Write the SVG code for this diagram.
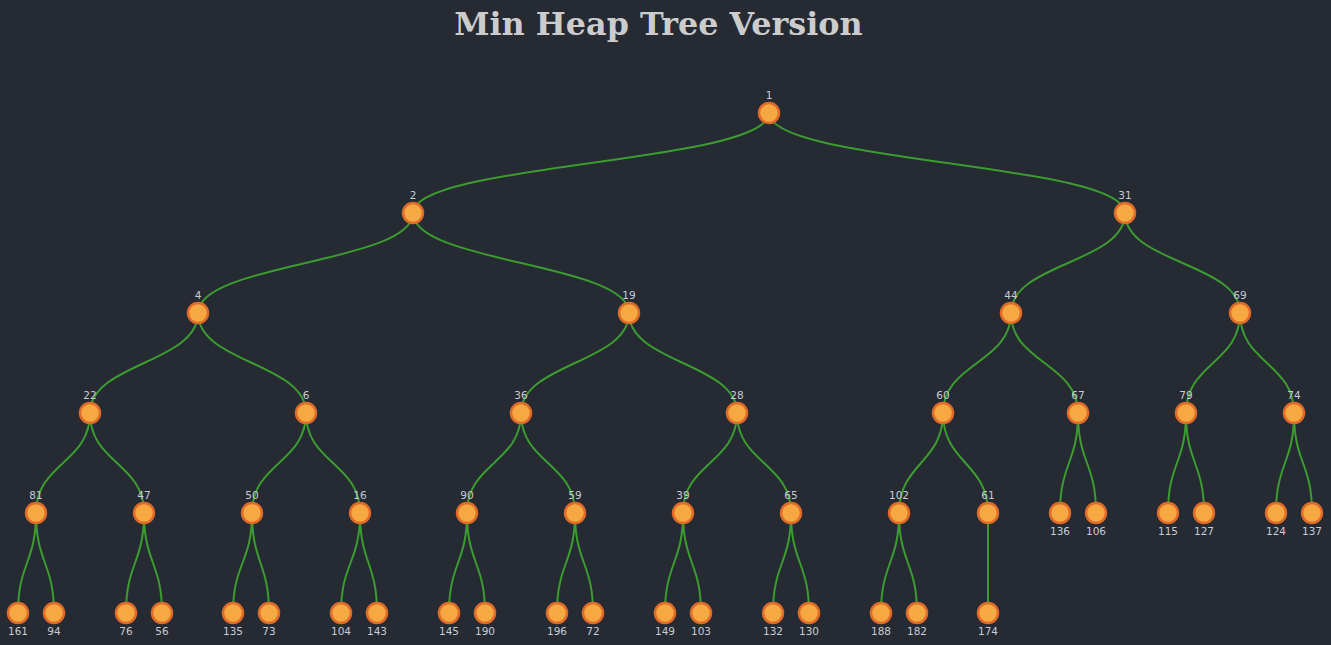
<svg xmlns="http://www.w3.org/2000/svg" width="1331" height="645" viewBox="0 0 1331 645">
<style>
.e{fill:none;stroke:#3c9c2f;stroke-width:2}
.n circle{fill:#f6a843;stroke:#e06b28;stroke-width:2.5}
.n text{font-family:"DejaVu Sans",sans-serif;font-size:10.5px;fill:#c8ccd4;text-anchor:middle}
.t{font-family:"DejaVu Serif","Liberation Serif",serif;font-weight:bold;font-size:31.8px;fill:#cccccc;text-anchor:middle}
</style>
<rect width="1331" height="645" fill="#252a33"/>
<text class="t" x="658.5" y="35">Min Heap Tree Version</text>
<g id="edges">
<path class="e" d="M769 113C769 163 413 163 413 213"/>
<path class="e" d="M769 113C769 163 1125 163 1125 213"/>
<path class="e" d="M413 213C413 263 198 263 198 313"/>
<path class="e" d="M413 213C413 263 629 263 629 313"/>
<path class="e" d="M1125 213C1125 263 1011 263 1011 313"/>
<path class="e" d="M1125 213C1125 263 1240 263 1240 313"/>
<path class="e" d="M198 313C198 363 90 363 90 413"/>
<path class="e" d="M198 313C198 363 306 363 306 413"/>
<path class="e" d="M629 313C629 363 521 363 521 413"/>
<path class="e" d="M629 313C629 363 737 363 737 413"/>
<path class="e" d="M1011 313C1011 363 943 363 943 413"/>
<path class="e" d="M1011 313C1011 363 1078 363 1078 413"/>
<path class="e" d="M1240 313C1240 363 1186 363 1186 413"/>
<path class="e" d="M1240 313C1240 363 1294 363 1294 413"/>
<path class="e" d="M90 413C90 463 36 463 36 513"/>
<path class="e" d="M90 413C90 463 144 463 144 513"/>
<path class="e" d="M306 413C306 463 252 463 252 513"/>
<path class="e" d="M306 413C306 463 360 463 360 513"/>
<path class="e" d="M521 413C521 463 467 463 467 513"/>
<path class="e" d="M521 413C521 463 575 463 575 513"/>
<path class="e" d="M737 413C737 463 683 463 683 513"/>
<path class="e" d="M737 413C737 463 791 463 791 513"/>
<path class="e" d="M943 413C943 463 899 463 899 513"/>
<path class="e" d="M943 413C943 463 988 463 988 513"/>
<path class="e" d="M1078 413C1078 463 1060 463 1060 513"/>
<path class="e" d="M1078 413C1078 463 1096 463 1096 513"/>
<path class="e" d="M1186 413C1186 463 1168 463 1168 513"/>
<path class="e" d="M1186 413C1186 463 1204 463 1204 513"/>
<path class="e" d="M1294 413C1294 463 1276 463 1276 513"/>
<path class="e" d="M1294 413C1294 463 1312 463 1312 513"/>
<path class="e" d="M36 513C36 563 18 563 18 613"/>
<path class="e" d="M36 513C36 563 54 563 54 613"/>
<path class="e" d="M144 513C144 563 126 563 126 613"/>
<path class="e" d="M144 513C144 563 162 563 162 613"/>
<path class="e" d="M252 513C252 563 233 563 233 613"/>
<path class="e" d="M252 513C252 563 269 563 269 613"/>
<path class="e" d="M360 513C360 563 341 563 341 613"/>
<path class="e" d="M360 513C360 563 377 563 377 613"/>
<path class="e" d="M467 513C467 563 449 563 449 613"/>
<path class="e" d="M467 513C467 563 485 563 485 613"/>
<path class="e" d="M575 513C575 563 557 563 557 613"/>
<path class="e" d="M575 513C575 563 593 563 593 613"/>
<path class="e" d="M683 513C683 563 665 563 665 613"/>
<path class="e" d="M683 513C683 563 701 563 701 613"/>
<path class="e" d="M791 513C791 563 773 563 773 613"/>
<path class="e" d="M791 513C791 563 809 563 809 613"/>
<path class="e" d="M899 513C899 563 881 563 881 613"/>
<path class="e" d="M899 513C899 563 917 563 917 613"/>
<path class="e" d="M988 513L988 613"/>
</g>
<g id="n1" class="n"><circle cx="769" cy="113" r="10"/><text x="769" y="99">1</text></g>
<g id="n2" class="n"><circle cx="413" cy="213" r="10"/><text x="413" y="199">2</text></g>
<g id="n31" class="n"><circle cx="1125" cy="213" r="10"/><text x="1125" y="199">31</text></g>
<g id="n4" class="n"><circle cx="198" cy="313" r="10"/><text x="198" y="299">4</text></g>
<g id="n19" class="n"><circle cx="629" cy="313" r="10"/><text x="629" y="299">19</text></g>
<g id="n44" class="n"><circle cx="1011" cy="313" r="10"/><text x="1011" y="299">44</text></g>
<g id="n69" class="n"><circle cx="1240" cy="313" r="10"/><text x="1240" y="299">69</text></g>
<g id="n22" class="n"><circle cx="90" cy="413" r="10"/><text x="90" y="399">22</text></g>
<g id="n6" class="n"><circle cx="306" cy="413" r="10"/><text x="306" y="399">6</text></g>
<g id="n36" class="n"><circle cx="521" cy="413" r="10"/><text x="521" y="399">36</text></g>
<g id="n28" class="n"><circle cx="737" cy="413" r="10"/><text x="737" y="399">28</text></g>
<g id="n60" class="n"><circle cx="943" cy="413" r="10"/><text x="943" y="399">60</text></g>
<g id="n67" class="n"><circle cx="1078" cy="413" r="10"/><text x="1078" y="399">67</text></g>
<g id="n79" class="n"><circle cx="1186" cy="413" r="10"/><text x="1186" y="399">79</text></g>
<g id="n74" class="n"><circle cx="1294" cy="413" r="10"/><text x="1294" y="399">74</text></g>
<g id="n81" class="n"><circle cx="36" cy="513" r="10"/><text x="36" y="499">81</text></g>
<g id="n47" class="n"><circle cx="144" cy="513" r="10"/><text x="144" y="499">47</text></g>
<g id="n50" class="n"><circle cx="252" cy="513" r="10"/><text x="252" y="499">50</text></g>
<g id="n16" class="n"><circle cx="360" cy="513" r="10"/><text x="360" y="499">16</text></g>
<g id="n90" class="n"><circle cx="467" cy="513" r="10"/><text x="467" y="499">90</text></g>
<g id="n59" class="n"><circle cx="575" cy="513" r="10"/><text x="575" y="499">59</text></g>
<g id="n39" class="n"><circle cx="683" cy="513" r="10"/><text x="683" y="499">39</text></g>
<g id="n65" class="n"><circle cx="791" cy="513" r="10"/><text x="791" y="499">65</text></g>
<g id="n102" class="n"><circle cx="899" cy="513" r="10"/><text x="899" y="499">102</text></g>
<g id="n61" class="n"><circle cx="988" cy="513" r="10"/><text x="988" y="499">61</text></g>
<g id="n136" class="n"><circle cx="1060" cy="513" r="10"/><text x="1060" y="535">136</text></g>
<g id="n106" class="n"><circle cx="1096" cy="513" r="10"/><text x="1096" y="535">106</text></g>
<g id="n115" class="n"><circle cx="1168" cy="513" r="10"/><text x="1168" y="535">115</text></g>
<g id="n127" class="n"><circle cx="1204" cy="513" r="10"/><text x="1204" y="535">127</text></g>
<g id="n124" class="n"><circle cx="1276" cy="513" r="10"/><text x="1276" y="535">124</text></g>
<g id="n137" class="n"><circle cx="1312" cy="513" r="10"/><text x="1312" y="535">137</text></g>
<g id="n161" class="n"><circle cx="18" cy="613" r="10"/><text x="18" y="635">161</text></g>
<g id="n94" class="n"><circle cx="54" cy="613" r="10"/><text x="54" y="635">94</text></g>
<g id="n76" class="n"><circle cx="126" cy="613" r="10"/><text x="126" y="635">76</text></g>
<g id="n56" class="n"><circle cx="162" cy="613" r="10"/><text x="162" y="635">56</text></g>
<g id="n135" class="n"><circle cx="233" cy="613" r="10"/><text x="233" y="635">135</text></g>
<g id="n73" class="n"><circle cx="269" cy="613" r="10"/><text x="269" y="635">73</text></g>
<g id="n104" class="n"><circle cx="341" cy="613" r="10"/><text x="341" y="635">104</text></g>
<g id="n143" class="n"><circle cx="377" cy="613" r="10"/><text x="377" y="635">143</text></g>
<g id="n145" class="n"><circle cx="449" cy="613" r="10"/><text x="449" y="635">145</text></g>
<g id="n190" class="n"><circle cx="485" cy="613" r="10"/><text x="485" y="635">190</text></g>
<g id="n196" class="n"><circle cx="557" cy="613" r="10"/><text x="557" y="635">196</text></g>
<g id="n72" class="n"><circle cx="593" cy="613" r="10"/><text x="593" y="635">72</text></g>
<g id="n149" class="n"><circle cx="665" cy="613" r="10"/><text x="665" y="635">149</text></g>
<g id="n103" class="n"><circle cx="701" cy="613" r="10"/><text x="701" y="635">103</text></g>
<g id="n132" class="n"><circle cx="773" cy="613" r="10"/><text x="773" y="635">132</text></g>
<g id="n130" class="n"><circle cx="809" cy="613" r="10"/><text x="809" y="635">130</text></g>
<g id="n188" class="n"><circle cx="881" cy="613" r="10"/><text x="881" y="635">188</text></g>
<g id="n182" class="n"><circle cx="917" cy="613" r="10"/><text x="917" y="635">182</text></g>
<g id="n174" class="n"><circle cx="988" cy="613" r="10"/><text x="988" y="635">174</text></g>
</svg>
